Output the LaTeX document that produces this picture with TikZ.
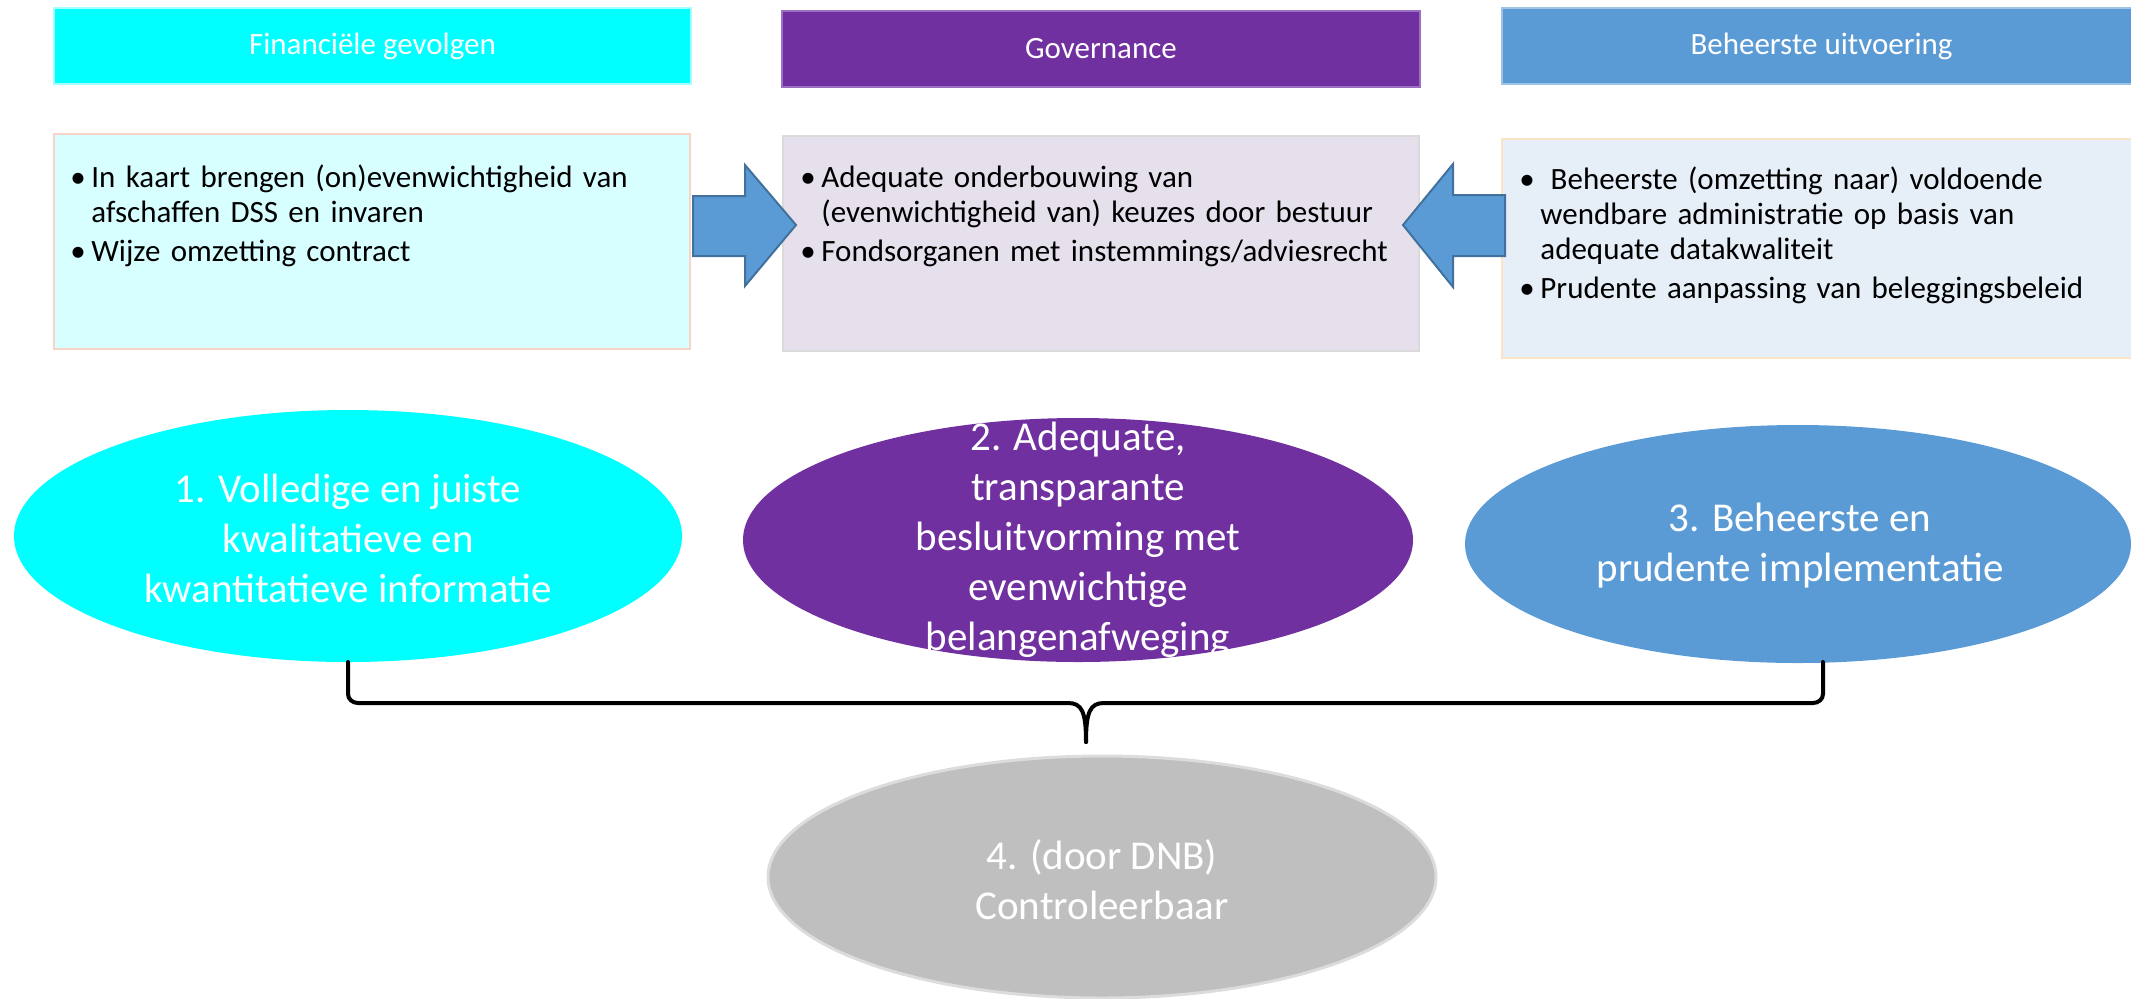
\documentclass[tikz,border=0pt]{standalone}
\usepackage{fontspec}
\setmainfont{Carlito}
\definecolor{cCyan}{HTML}{00FFFF}
\definecolor{cCyanB}{HTML}{A6FFFF}
\definecolor{cPurple}{HTML}{7030A0}
\definecolor{cPurpleB}{HTML}{9B6FC2}
\definecolor{cBlue}{HTML}{5B9BD5}
\definecolor{cBlueB}{HTML}{9DC3E6}
\definecolor{cGrey}{HTML}{BFBFBF}
\definecolor{cGreyB}{HTML}{DCDCDC}
\definecolor{boxAfill}{HTML}{D7FFFF}
\definecolor{boxAline}{HTML}{F6D5C8}
\definecolor{boxBfill}{HTML}{E6E0EC}
\definecolor{boxBline}{HTML}{DADADA}
\definecolor{boxCfill}{HTML}{E6EEF8}
\definecolor{boxCline}{HTML}{FBE3C6}
\definecolor{arrFill}{HTML}{5B9BD5}
\definecolor{arrLine}{HTML}{41719C}
\newcommand\bitem[1]{\par\hangindent=10.5pt\hangafter=1\noindent\makebox[10.5pt][l]{\textbullet}#1\par\vspace{2pt}}
\begin{document}
\begin{tikzpicture}[x=0.5pt,y=-0.5pt,
  hdr/.style={rectangle, anchor=north west, inner sep=0pt, line width=1pt, text=white,
    font=\fontsize{15.5pt}{18pt}\selectfont},
  infobox/.style={rectangle, anchor=north west, inner sep=0pt, line width=1pt},
  btext/.style={anchor=north west, inner sep=0pt, align=left, text width=320pt,
    font=\fontsize{15.5pt}{17.5pt}\selectfont},
  etext/.style={inner sep=0pt, align=center, text=white,
    font=\fontsize{20.5pt}{25pt}\selectfont},
  blockarrow/.style={fill=arrFill, draw=arrLine, line width=1pt, line join=miter},
  bracestyle/.style={draw=black, line width=2pt, line cap=round}
]
\useasboundingbox (0,0) rectangle (2131,998);

% header bars
\node[hdr, fill=cCyan, draw=cCyanB, minimum width=318.5pt, minimum height=38pt] (h1) at (53,7) {Financiële gevolgen};
\node[hdr, fill=cPurple, draw=cPurpleB, minimum width=319pt, minimum height=38pt] (h2) at (781,10) {Governance};
\node[hdr, fill=cBlue, draw=cBlueB, minimum width=319.5pt, minimum height=38pt] (h3) at (1501,7) {Beheerste uitvoering};

% info boxes
\node[infobox, fill=boxAfill, draw=boxAline, minimum width=318pt, minimum height=107.5pt] (b1) at (53,133) {};
\node[infobox, fill=boxBfill, draw=boxBline, minimum width=318pt, minimum height=107.5pt] (b2) at (782,135) {};
\node[infobox, fill=boxCfill, draw=boxCline, minimum width=319.5pt, minimum height=109.5pt] (b3) at (1501,138) {};

\node[btext] (t1) at (70,152) {\bitem{In kaart brengen (on)evenwichtigheid van\newline afschaffen DSS en invaren}\bitem{Wijze omzetting contract}};
\node[btext] (t2) at (800,152) {\bitem{Adequate onderbouwing van\newline (evenwichtigheid van) keuzes door bestuur}\bitem{Fondsorganen met instemmings/adviesrecht}};
\node[btext] (t3) at (1519,154) {\bitem{ Beheerste (omzetting naar) voldoende\newline wendbare administratie op basis van\newline adequate datakwaliteit}\bitem{Prudente aanpassing van beleggingsbeleid}};

% block arrows
\draw[blockarrow] (693,196) -- (745,196) -- (745,165) -- (796,225) -- (745,286) -- (745,256) -- (693,256) -- cycle;
\draw[blockarrow] (1505,195) -- (1453,195) -- (1453,164) -- (1403,225) -- (1453,287) -- (1453,256) -- (1505,256) -- cycle;

% ellipses
\fill[cCyan] (348,536) ellipse [x radius=334, y radius=126];
\fill[cPurple] (1078,540) ellipse [x radius=335, y radius=122];
\fill[cBlue] (1798,544) ellipse [x radius=333, y radius=119];
\filldraw[fill=cGrey, draw=cGreyB, line width=1.5pt] (1102,877) ellipse [x radius=334, y radius=121];

\node[etext] (e1) at (348,538) {1. Volledige en juiste\\kwalitatieve en\\kwantitatieve informatie};
\node[etext] (e2) at (1078,540) {2. Adequate,\\transparante\\besluitvorming met\\evenwichtige\\belangenafweging};
\node[etext] (e3) at (1800,546) {3. Beheerste en\\prudente implementatie};
\node[etext] (e4) at (1102,880) {4. (door DNB)\\Controleerbaar};

% brace
\coordinate (bL) at (348,662);
\coordinate (bR) at (1823,662);
\coordinate (bM) at (1086,742);
\draw[bracestyle] (bL) -- (348,694) to[out=-90,in=180] (358,703) -- (1068,703) .. controls (1082,703) and (1086,712) .. (bM);
\draw[bracestyle] (bR) -- (1823,694) to[out=-90,in=0] (1813,703) -- (1104,703) .. controls (1090,703) and (1086,712) .. (bM);
\end{tikzpicture}
\end{document}
